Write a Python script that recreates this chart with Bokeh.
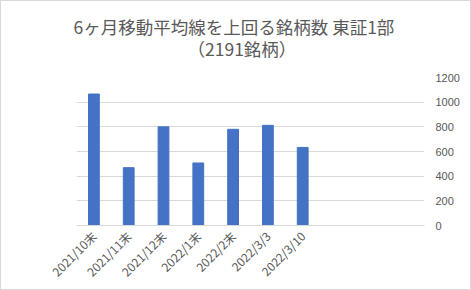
import math
from bokeh.plotting import figure
from bokeh.models import ColumnDataSource, FixedTicker, Title
from bokeh.embed import file_html
from bokeh.resources import INLINE

# ---- data ----
categories = ["2021/10末", "2021/11末", "2021/12末", "2022/1末", "2022/2末", "2022/3/3", "2022/3/10"]
counts = [1066, 469, 800, 507, 780, 812, 633]
empty_slots = [" ", "  ", "   "]
y_ticks = [0, 200, 400, 600, 800, 1000, 1200]
title_line1 = "6ヶ月移動平均線を上回る銘柄数 東証1部"
title_line2 = "（2191銘柄）"

factors = categories + empty_slots
src = ColumnDataSource(dict(cat=categories, val=counts))

p = figure(
    x_range=factors, y_range=(0, 1200),
    width=471, height=290,
    output_backend="svg", toolbar_location=None,
    y_axis_location="right",
    min_border_left=75, min_border_right=48,
    min_border_top=76, min_border_bottom=66,
    title=None,
)
p.styles = {"border": "1px solid #d9d9d9", "box-sizing": "border-box"}

p.vbar(x="cat", top="val", width=0.31, source=src,
       fill_color="#4472C4", line_color="#4472C4")

p.xgrid.grid_line_color = None
p.ygrid.grid_line_color = "#d9d9d9"
p.ygrid.ticker = FixedTicker(ticks=y_ticks)
p.outline_line_color = None
p.background_fill_color = "white"
p.border_fill_color = "white"

ya = p.yaxis[0]
ya.ticker = FixedTicker(ticks=y_ticks)
ya.axis_line_color = None
ya.major_tick_line_color = None
ya.minor_tick_line_color = None
ya.major_tick_out = 0
ya.major_tick_in = 0
ya.major_label_standoff = 11
ya.major_label_text_font = "Liberation Sans"
ya.major_label_text_font_size = "11px"
ya.major_label_text_color = "#595959"

xa = p.xaxis[0]
xa.axis_line_color = "#d9d9d9"
xa.major_tick_line_color = None
xa.minor_tick_line_color = None
xa.major_tick_out = 0
xa.major_tick_in = 0
xa.major_label_standoff = 8
xa.major_label_orientation = math.pi / 4
xa.major_label_text_font = "Noto Sans CJK JP"
xa.major_label_text_font_size = "12px"
xa.major_label_text_color = "#595959"

t2 = Title(text=title_line2, align="left", offset=111, text_font="Noto Sans CJK JP",
           text_font_size="17.5px", text_color="#595959", text_font_style="normal",
           standoff=34)
t1 = Title(text=title_line1, align="left", offset=-3, text_font="Noto Sans CJK JP",
           text_font_size="17.5px", text_color="#595959", text_font_style="normal",
           standoff=-44)
p.add_layout(t2, "above")
p.add_layout(t1, "above")

open("out.html", "w").write(file_html(p, INLINE))
